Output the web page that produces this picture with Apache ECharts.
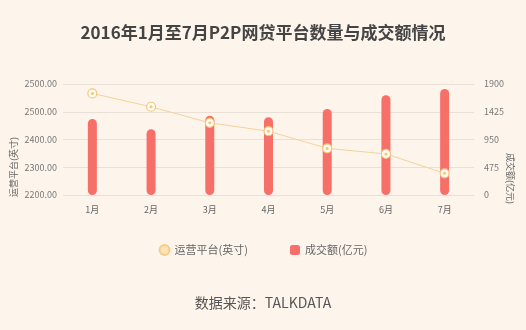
<!DOCTYPE html>
<html>
<head>
<meta charset="utf-8">
<script src="https://cdn.jsdelivr.net/npm/echarts@6/dist/echarts.min.js"></script>
<style>
  html, body { margin: 0; padding: 0; background: #fdf5ec; }
  #chart { width: 526px; height: 330px; }
</style>
</head>
<body>
<div id="chart"></div>
<script>
// Months of 2016
var months = ['1月', '2月', '3月', '4月', '5月', '6月', '7月'];
// Operating platforms (left axis)
var platforms = [2566, 2518, 2460, 2430, 2368, 2348, 2278];
// Turnover, 100 million yuan (right axis)
var turnover = [1300, 1125, 1358, 1330, 1472, 1707, 1815];
// Tick labels as printed on the left axis
var leftTicks = ['2200.00', '2300.00', '2400.00', '2500.00', '2500.00'];
// Tick labels on the right axis
var rightTicks = ['0', '475', '950', '1425', '1900'];

var font = '"Noto Sans CJK SC", "Noto Sans", sans-serif';
var lineName = '运营平台(英寸)';
var barName = '成交额(亿元)';
var chart = echarts.init(document.getElementById('chart'));

chart.setOption({
  backgroundColor: '#fdf5ec',
  textStyle: { fontFamily: font },
  title: {
    text: '2016年1月至7月P2P网贷平台数量与成交额情况',
    left: 'center',
    top: 19,
    textStyle: { fontSize: 17, fontWeight: 'bold', color: '#444', fontFamily: font }
  },
  legend: {
    top: 239,
    left: 'center',
    itemGap: 42,
    itemWidth: 10,
    itemHeight: 10,
    textStyle: { fontSize: 11, color: '#666', fontFamily: font },
    data: [
      { name: lineName, icon: 'circle', itemStyle: { color: '#fbe3b8', borderColor: '#f6cd86', borderWidth: 2 } },
      { name: barName, icon: 'roundRect', itemStyle: { color: '#f66f69' } }
    ]
  },
  grid: { left: 63, right: 52, top: 84, bottom: 135 },
  xAxis: {
    type: 'category',
    data: months,
    axisLine: { show: false },
    axisTick: { show: false },
    axisLabel: { color: '#666', fontSize: 9, margin: 10 }
  },
  yAxis: [
    {
      type: 'value',
      min: 2200,
      max: 2600,
      interval: 100,
      axisLine: { show: false },
      axisTick: { show: false },
      axisLabel: {
        color: '#777',
        fontSize: 9,
        margin: 6,
        formatter: function (v) { return leftTicks[Math.round((v - 2200) / 100)]; }
      },
      splitLine: { lineStyle: { color: '#e9e1d8', width: 1 } }
    },
    {
      type: 'value',
      min: 0,
      max: 1900,
      interval: 475,
      axisLine: { show: false },
      axisTick: { show: false },
      axisLabel: {
        color: '#777',
        fontSize: 9,
        margin: 10,
        formatter: function (v) { return rightTicks[Math.round(v / 475)]; }
      },
      splitLine: { show: false }
    }
  ],
  graphic: [
    {
      type: 'text',
      x: 9,
      y: 197,
      rotation: Math.PI / 2,
      style: { text: lineName, fontSize: 9, fill: '#666', fontFamily: font, verticalAlign: 'top' }
    },
    {
      type: 'text',
      x: 515,
      y: 153,
      rotation: -Math.PI / 2,
      style: { text: barName, fontSize: 9, fill: '#666', fontFamily: font, verticalAlign: 'top' }
    },
    {
      type: 'text',
      left: 'center',
      top: 296,
      style: { text: '数据来源：TALKDATA', fontSize: 14, fill: '#555', fontFamily: font }
    }
  ],
  series: [
    {
      name: barName,
      type: 'bar',
      yAxisIndex: 1,
      data: turnover,
      barWidth: 9,
      itemStyle: { color: '#f66f69', borderRadius: 5 },
      z: 2
    },
    {
      name: lineName,
      type: 'line',
      yAxisIndex: 0,
      data: platforms,
      symbol: 'circle',
      symbolSize: 9,
      lineStyle: { color: '#f3d39a', width: 1 },
      itemStyle: { color: '#fffaf0', borderColor: '#f2c67c', borderWidth: 1.2 },
      z: 3
    },
    {
      // centre dot of each platform marker
      name: lineName,
      type: 'scatter',
      yAxisIndex: 0,
      data: platforms,
      symbolSize: 3,
      itemStyle: { color: '#efb95e' },
      silent: true,
      z: 4
    }
  ]
});
</script>
</body>
</html>
